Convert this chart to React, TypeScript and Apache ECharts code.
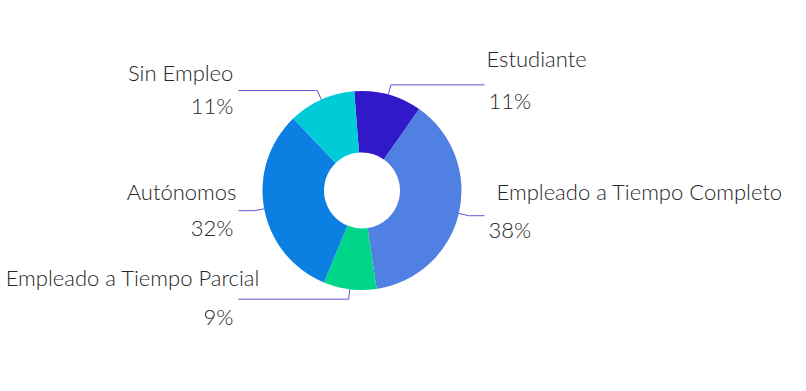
import React, { useEffect, useRef } from "react";
import * as echarts from "echarts";

const categories = [
  "Estudiante",
  "Empleado a Tiempo Completo",
  "Empleado a Tiempo Parcial",
  "Autónomos",
  "Sin Empleo",
];
const shares = [11.0, 37.9, 8.6, 31.6, 10.9];
const colors = ["#3119c9", "#5080e2", "#00d68a", "#0b80e2", "#00ccd8"];

// label styling tweaks per slice (style only)
const nameRowHeight = [53, 49, 43, 38, 36];
const pctRowHeight = [31, 28, 34, 33, 29];
const nameIndent = [0, 10, 0, 0, 3];
const pctIndent = [2, 2, 26, 3, 3];
const labelShiftX = [0, 0, 23, 0, 0];
const rightSide = [true, true, false, false, false];

const FONT = "Lato";

export default function App() {
  const ref = useRef<HTMLDivElement>(null);
  useEffect(() => {
    if (!ref.current) return;
    const chart = echarts.init(ref.current, null, { renderer: "svg" });
    const baseText = {
      fontFamily: FONT,
      fontWeight: 300,
      fontSize: 22,
      color: "#262626",
    };
    const data = categories.map((name, i) => ({
      name,
      value: shares[i],
      itemStyle: { color: colors[i] },
      label: {
        rich: {
          n: {
            ...baseText,
            lineHeight: pctRowHeight[i],
            padding: rightSide[i] ? [0, 0, 0, nameIndent[i]] : [0, nameIndent[i], 0, 0],
          },
          p: {
            ...baseText,
            lineHeight: nameRowHeight[i],
            padding: rightSide[i] ? [0, 0, 0, pctIndent[i]] : [0, pctIndent[i], 0, 0],
          },
        },
      },
    }));
    chart.setOption({
      animation: false,
      series: [
        {
          type: "pie",
          center: [362, 190.5],
          radius: [38, 99.5],
          startAngle: 94.5,
          clockwise: true,
          avoidLabelOverlap: true,
          emphasis: { disabled: true },
          label: {
            show: true,
            position: "outer",
            alignTo: "labelLine",
            distanceToLabelLine: 2,
            bleedMargin: 0,
            width: 300,
            formatter: (p: any) => `{n|${p.name}}\n{p|${Math.round(p.percent)}%}`,
          },
          labelLine: {
            show: true,
            length: 10,
            length2: 16,
            smooth: false,
            lineStyle: { color: "#6651d6", width: 1 },
          },
          labelLayout: (params: any) =>
            labelShiftX[params.dataIndex]
              ? { dx: labelShiftX[params.dataIndex], labelLinePoints: params.labelLinePoints }
              : {},
          data,
        },
      ],
    });
    return () => chart.dispose();
  }, []);
  return (
    <div
      ref={ref}
      style={{ position: "fixed", left: 0, top: 0, width: 806, height: 391, background: "#fff" }}
    />
  );
}
